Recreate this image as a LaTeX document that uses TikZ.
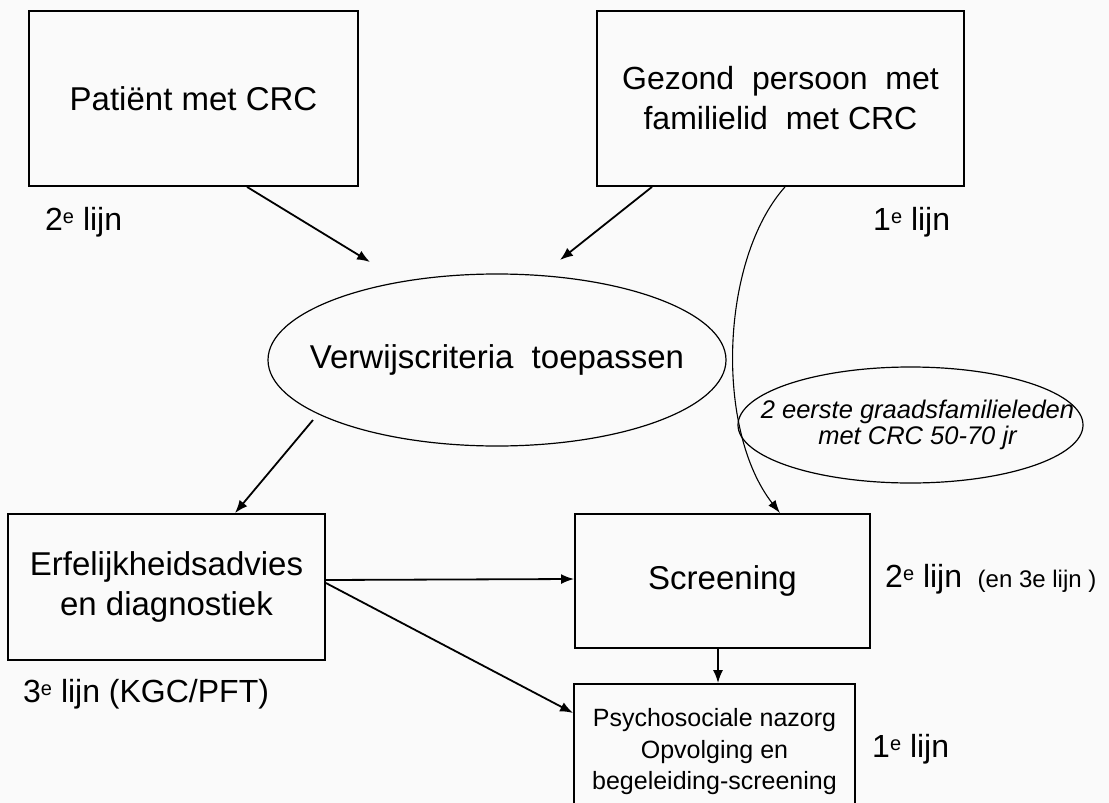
\documentclass[tikz,border=0pt]{standalone}
\usepackage{fontspec}
\setmainfont{Liberation Sans}
\usetikzlibrary{shapes.geometric,arrows.meta}
\definecolor{paper}{gray}{0.98}
\newcommand\supe{\raisebox{7pt}{\fontsize{20}{20}\selectfont e}}
\tikzset{
  box/.style={draw, line width=1.8pt, inner sep=0pt, align=center,
              font=\fontsize{33}{40}\selectfont},
  oval/.style={draw, ellipse, line width=1.2pt, inner sep=0pt},
  ovaltext/.style={inner sep=0pt, align=center},
  lbl/.style={anchor=base west, inner sep=0pt, font=\fontsize{32}{40}\selectfont},
  arr/.style={line width=1.8pt, -{Latex[length=13pt,width=10pt]}},
  thinarr/.style={line width=1.1pt, -{Latex[length=13pt,width=9pt]}}
}
\begin{document}
\begin{tikzpicture}[x=1pt, y=-1pt]
  \useasboundingbox[fill=paper] (0,0) rectangle (1109,803);

  % boxes
  \node[box, minimum width=329pt, minimum height=175pt] (pat) at (193.5,98.5) {Patiënt met CRC};
  \node[box, minimum width=367pt, minimum height=175pt, font=\fontsize{32}{40}\selectfont] (gez) at (780.5,98.5)
       {Gezond\ \ persoon\ \ met\\ familielid\ \ met CRC};
  \node[box, minimum width=317pt, minimum height=146pt] (erf) at (166.5,587)
       {Erfelijkheidsadvies\\ en diagnostiek};
  \node[box, minimum width=295pt, minimum height=134pt] (scr) at (722.5,581) {Screening};
  \node[box, minimum width=281pt, minimum height=136pt,
        font=\fontsize{25}{31.5}\selectfont] (psy) at (714.5,752)
       {Psychosociale nazorg\\ Opvolging en\\ begeleiding-screening};

  % ovals and their texts
  \node[oval, minimum width=458pt, minimum height=172pt] (ver) at (497,360) {};
  \node[ovaltext, font=\fontsize{33}{40}\selectfont] (vert) at (ver.center) {Verwijscriteria\ \ toepassen};
  \node[oval, minimum width=345pt, minimum height=116pt] (crit) at (910.5,425) {};
  \node[ovaltext, font=\fontsize{25.5}{26}\itshape] (critt) at ([xshift=7pt]crit.center)
       {2 eerste\ graadsfamilieleden\\ met CRC 50-70 jr};

  % side labels
  \node[lbl] (l2a) at (45,230) {2\supe\ lijn};
  \node[lbl] (l1a) at (873,230) {1\supe\ lijn};
  \node[lbl] (l3)  at (23,702) {3\supe\ lijn (KGC/PFT)};
  \node[lbl] (l2b) at (885,587) {2\supe\ lijn {\fontsize{24}{26}\selectfont\ (en 3e lijn )}};
  \node[lbl] (l1b) at (872,757) {1\supe\ lijn};

  % free arrow ends near the oval
  \coordinate (in1) at (370,262);
  \coordinate (in2) at (560,260);
  \coordinate (out1) at (313,420);

  % connectors
  \draw[arr] ([xshift=53.5pt]pat.south) -- (in1);
  \draw[arr] ([xshift=-128.5pt]gez.south) -- (in2);
  \draw[arr] (out1) -- ([xshift=68.5pt]erf.north);
  \draw[arr] ([yshift=7pt]erf.east) -- ([yshift=2pt]scr.west);
  \draw[arr] ([yshift=4pt]erf.east) -- ([yshift=39pt]psy.west);
  \draw[arr] ([xshift=-4.5pt]scr.south) -- ([xshift=3.5pt]psy.north);
  \draw[thinarr] ([xshift=4.5pt]gez.south) .. controls (720,260) and (715,430) .. ([xshift=57.5pt]scr.north);
\end{tikzpicture}
\end{document}
